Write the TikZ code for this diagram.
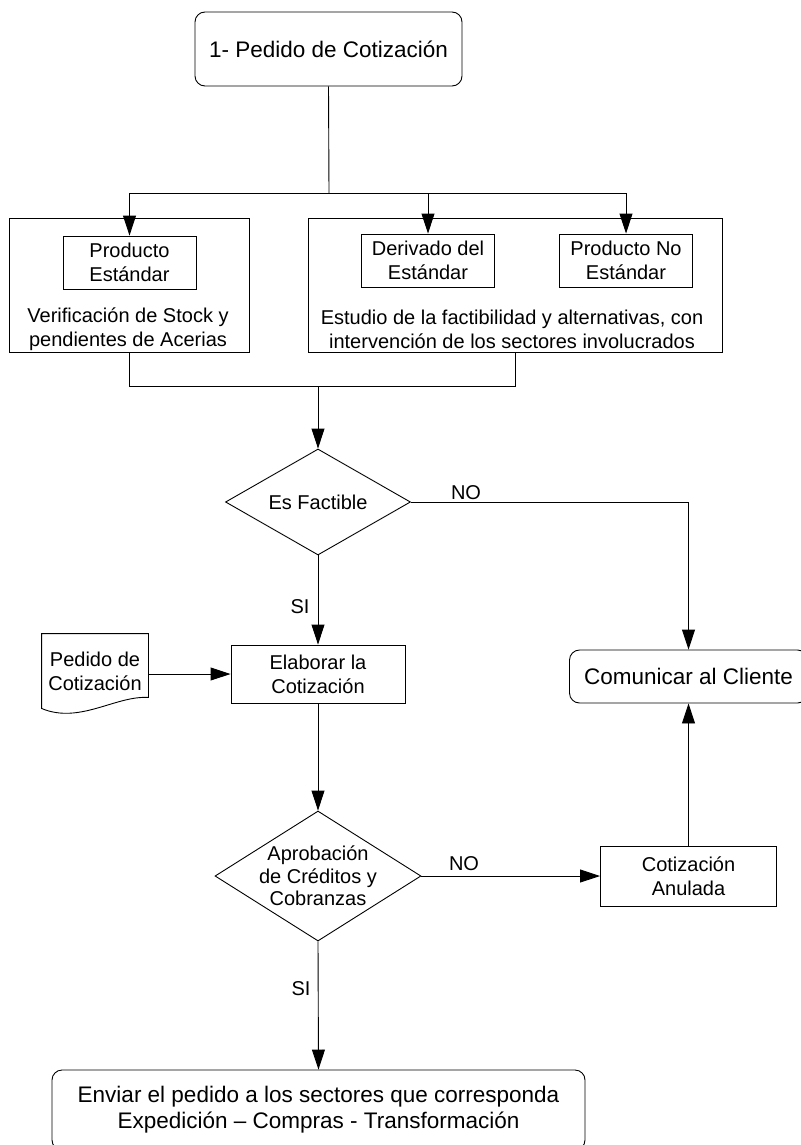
\documentclass[tikz,border=0pt]{standalone}
\usepackage{fontspec}
\setmainfont{Liberation Sans}
\usetikzlibrary{shapes.geometric, arrows.meta}

\tikzset{
caja/.style = {draw, rectangle, align = center, inner sep = 0pt, font = \fontsize{20}{24}\selectfont},
redonda/.style = {draw, rectangle, rounded corners = 10pt, align = center, inner sep = 0pt, font = \fontsize{22.5}{26}\selectfont},
rombo/.style = {draw, diamond, align = center, inner sep = 0pt, font = \fontsize{20}{22.5}\selectfont},
etiqueta/.style = {align = center, inner sep = 0pt, font = \fontsize{20}{24}\selectfont},
flecha/.style = {-{Triangle[length = 20pt, width = 13pt]}}
}

\begin{document}
\begin{tikzpicture}[x = 1pt, y = -1pt, line width = 0.9pt]
\useasboundingbox (0,0) rectangle (800,1145);

\node[redonda, minimum width = 267pt, minimum height = 74pt] (pedido) at (328.5,49) {1- Pedido de Cotización};

\node[caja, minimum width = 240pt, minimum height = 134pt] (stock) at (129,285) {};
\node[caja, minimum width = 414pt, minimum height = 134pt] (estudio) at (515,285) {};
\node[caja, minimum width = 133pt, minimum height = 53pt] (std) at (129.5,262.5) {Producto\\Estándar};
\node[caja, minimum width = 133pt, minimum height = 53pt] (deriv) at (428,260.5) {Derivado del\\Estándar};
\node[caja, minimum width = 133pt, minimum height = 53pt] (nostd) at (626,260.5) {Producto No\\Estándar};
\node[etiqueta] (txtstock) at (128,329) {Verificación de Stock y\\pendientes de Acerias};
\node[etiqueta] (txtestudio) at (512,329) {Estudio de la factibilidad y alternativas, con\\intervención de los sectores involucrados};

\coordinate (rama) at (329,193);
\draw (pedido.south) -- (rama);
\draw[flecha] (rama) -| (std.north);
\draw[flecha] (rama) -| (deriv.north);
\draw[flecha] (rama) -| (nostd.north);

\node[rombo, aspect = 1.745, minimum width = 185pt, minimum height = 106pt] (factible) at (318,502) {Es Factible};
\coordinate (union) at (318,386);
\draw (stock.south) |- (union);
\draw (estudio.south) |- (union);
\draw[flecha] (union) -- (factible.north);

\node[caja, minimum width = 174pt, minimum height = 58pt] (elaborar) at (318,674) {Elaborar la\\Cotización};
\node[redonda, minimum width = 238pt, minimum height = 53pt] (cliente) at (688.5,676.5) {Comunicar al Cliente};
\node[etiqueta] (si1) at (300,607) {SI};
\node[etiqueta] (no1) at (466,493) {NO};
\draw[flecha] (factible.south) -- (elaborar.north);
\draw[flecha] (factible.east) -| (cliente.north);

\node[etiqueta, minimum width = 106pt, minimum height = 74pt] (doc) at (95,671) {Pedido de\\Cotización};
\draw (doc.north west) -- (doc.north east) -- ([yshift = 11pt]doc.south east) .. controls +(-33,-2) and +(38,16) .. (doc.south west) -- cycle;
\draw[flecha] (doc.east |- elaborar.west) -- (elaborar.west);

\node[rombo, aspect = 1.585, inner sep = -6pt, minimum width = 206pt, minimum height = 130pt] (aprob) at (318,876) {Aprobación\\de Créditos y\\Cobranzas};
\node[caja, minimum width = 176pt, minimum height = 60pt] (anulada) at (688.5,876) {Cotización\\Anulada};
\node[etiqueta] (no2) at (464,864) {NO};
\draw[flecha] (elaborar.south) -- (aprob.north);
\draw[flecha] (aprob.east) -- (anulada.west);
\draw[flecha] (anulada.north) -- (cliente.south);

\node[redonda, minimum width = 533pt, minimum height = 80pt] (enviar) at (318.5,1110) {Enviar el pedido a los sectores que corresponda\\Expedición – Compras - Transformación};
\node[etiqueta] (si2) at (301,989) {SI};
\draw[flecha] (aprob.south) -- (enviar.north);
\end{tikzpicture}
\end{document}
